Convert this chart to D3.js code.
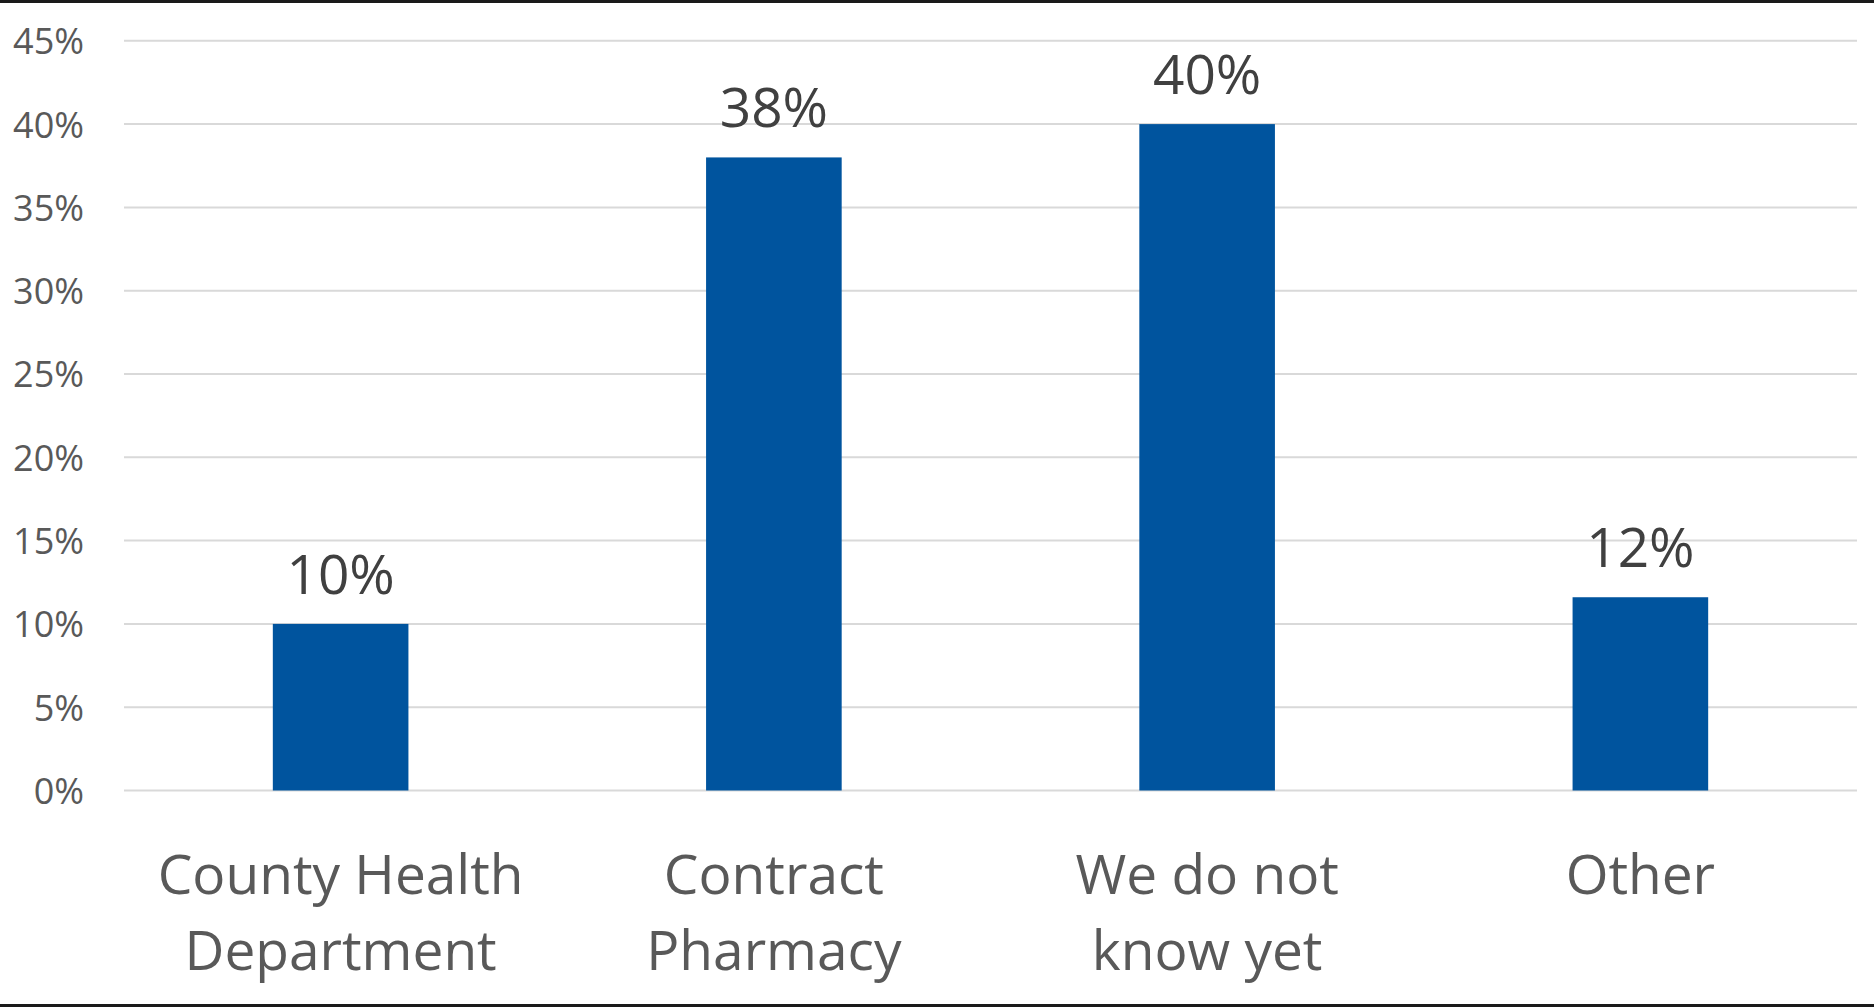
<!DOCTYPE html>
<html>
<head>
<meta charset="utf-8">
<script src="https://cdn.jsdelivr.net/npm/d3@7"></script>
<style>
  html, body { margin: 0; padding: 0; background: #fff; }
  svg { display: block; }
</style>
</head>
<body>
<div id="chart"></div>
<script>
// data
const categories = [["County Health", "Department"], ["Contract", "Pharmacy"], ["We do not", "know yet"], ["Other"]];
const values = [0.10, 0.38, 0.40, 0.116];
const valueLabels = ["10%", "38%", "40%", "12%"];
const yTicks = [0, 0.05, 0.10, 0.15, 0.20, 0.25, 0.30, 0.35, 0.40, 0.45];

const width = 1874, height = 1008;
const font = "'Open Sans', 'Noto Sans', sans-serif";

const svg = d3.select("#chart").append("svg")
  .attr("width", width)
  .attr("height", height);

// frame lines top and bottom
svg.append("rect").attr("x", 0).attr("y", 0).attr("width", width).attr("height", 3).attr("fill", "#1a1a1a");
svg.append("rect").attr("x", 0).attr("y", 1004).attr("width", width).attr("height", 3).attr("fill", "#1a1a1a");

const x = d3.scaleBand()
  .domain(d3.range(categories.length))
  .range([124, 1857])
  .paddingInner(0.687)
  .paddingOuter(0.687 / 2);

const y = d3.scaleLinear()
  .domain([0, 0.45])
  .range([790.5, 40.8]);

// gridlines
svg.append("g")
  .selectAll("line")
  .data(yTicks)
  .enter().append("line")
  .attr("x1", 124)
  .attr("x2", 1857)
  .attr("y1", d => y(d))
  .attr("y2", d => y(d))
  .attr("stroke", "#d9d9d9")
  .attr("stroke-width", 2);

// y axis labels
const yAxis = d3.axisLeft(y)
  .tickValues(yTicks)
  .tickFormat(d3.format(".0%"))
  .tickSize(0)
  .tickPadding(0);

const gy = svg.append("g")
  .attr("transform", "translate(84,0)")
  .call(yAxis);
gy.select(".domain").remove();
gy.selectAll("text")
  .attr("font-family", font)
  .attr("font-size", 36)
  .attr("fill", "#595959")
  .attr("dy", "0.36em");

// bars
svg.append("g")
  .selectAll("rect")
  .data(values)
  .enter().append("rect")
  .attr("x", (d, i) => x(i))
  .attr("y", d => y(d))
  .attr("width", x.bandwidth())
  .attr("height", d => y(0) - y(d))
  .attr("fill", "#00549e");

// value labels
svg.append("g")
  .selectAll("text")
  .data(values)
  .enter().append("text")
  .attr("x", (d, i) => x(i) + x.bandwidth() / 2)
  .attr("y", d => y(d) - 30)
  .attr("text-anchor", "middle")
  .attr("font-family", font)
  .attr("font-size", 55)
  .attr("fill", "#404040")
  .text((d, i) => valueLabels[i]);

// category labels
const cat = svg.append("g")
  .selectAll("text")
  .data(categories)
  .enter().append("text")
  .attr("x", (d, i) => x(i) + x.bandwidth() / 2)
  .attr("y", 894)
  .attr("text-anchor", "middle")
  .attr("font-family", font)
  .attr("font-size", 55)
  .attr("fill", "#595959");

cat.selectAll("tspan")
  .data(d => d)
  .enter().append("tspan")
  .attr("x", function () { return d3.select(this.parentNode).attr("x"); })
  .attr("dy", (d, i) => i === 0 ? 0 : 76)
  .text(d => d);
</script>
</body>
</html>
